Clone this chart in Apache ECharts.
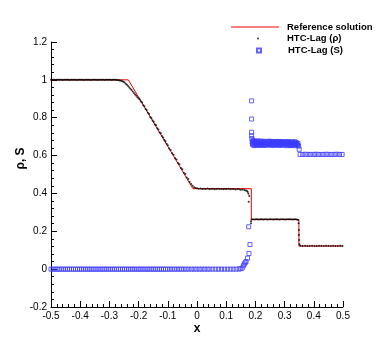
<!DOCTYPE html>
<html>
<head>
<meta charset="utf-8">
<script src="https://cdn.jsdelivr.net/npm/echarts@6/dist/echarts.min.js"></script>
<style>html,body{margin:0;padding:0;background:#fff}#c{width:390px;height:347px}</style>
</head>
<body>
<div id="c"></div>
<script>
const xTicks = [-0.5, 0.5, 0.1];
const yTicks = [-0.2, 1.2, 0.2];
const seriesNames = ['Reference solution', 'HTC-Lag (\u03c1)', 'HTC-Lag (S)'];

const refPts = [[-0.5,1],[-0.2353,1],[-0.014,0.425],[0.186,0.425],[0.186,0.262],[0.349,0.262],[0.349,0.122],[0.5,0.122]];

const rhoPts = [
[-0.500,1.000],[-0.496,1.000],[-0.492,1.001],[-0.488,1.000],[-0.484,0.999],[-0.480,1.000],[-0.476,1.000],[-0.472,1.001],[-0.468,1.000],[-0.464,1.000],
[-0.460,0.999],[-0.456,1.000],[-0.452,1.000],[-0.448,1.001],[-0.444,1.000],[-0.440,1.000],[-0.436,0.999],[-0.432,1.000],[-0.428,1.000],[-0.424,1.001],
[-0.420,1.000],[-0.416,1.000],[-0.412,0.999],[-0.408,1.000],[-0.404,1.000],[-0.400,1.001],[-0.396,1.000],[-0.392,1.000],[-0.388,0.999],[-0.384,1.000],
[-0.380,1.000],[-0.376,1.001],[-0.372,1.000],[-0.368,1.000],[-0.364,0.999],[-0.360,1.000],[-0.356,1.000],[-0.352,1.001],[-0.348,1.000],[-0.344,1.000],
[-0.340,0.999],[-0.336,1.000],[-0.332,1.000],[-0.328,1.001],[-0.324,1.000],[-0.320,1.000],[-0.316,0.999],[-0.312,1.000],[-0.308,1.000],[-0.304,1.001],
[-0.300,1.000],[-0.296,1.000],[-0.292,0.999],[-0.288,1.000],[-0.284,1.000],[-0.280,1.000],[-0.276,0.999],[-0.272,0.999],[-0.268,0.998],[-0.264,0.997],
[-0.260,0.995],[-0.256,0.993],[-0.252,0.990],[-0.248,0.986],[-0.244,0.980],[-0.240,0.974],[-0.236,0.967],[-0.232,0.960],[-0.228,0.953],[-0.224,0.946],
[-0.220,0.938],[-0.216,0.930],[-0.212,0.922],[-0.208,0.916],[-0.204,0.908],[-0.200,0.902],[-0.196,0.896],[-0.192,0.886],[-0.188,0.880],[-0.184,0.866],
[-0.180,0.861],[-0.176,0.846],[-0.172,0.840],[-0.168,0.826],[-0.164,0.820],[-0.160,0.804],[-0.156,0.799],[-0.152,0.785],[-0.148,0.779],[-0.144,0.764],
[-0.140,0.760],[-0.136,0.744],[-0.132,0.738],[-0.128,0.722],[-0.124,0.718],[-0.120,0.703],[-0.116,0.696],[-0.112,0.682],[-0.108,0.676],[-0.104,0.662],
[-0.100,0.655],[-0.095,0.638],[-0.090,0.630],[-0.085,0.612],[-0.080,0.605],[-0.075,0.586],[-0.070,0.579],[-0.065,0.561],[-0.060,0.554],[-0.055,0.535],
[-0.050,0.528],[-0.045,0.509],[-0.040,0.502],[-0.035,0.484],[-0.030,0.476],[-0.025,0.461],[-0.020,0.450],[-0.015,0.440],[-0.010,0.433],[-0.005,0.429],
[0.000,0.427],[0.006,0.425],[0.012,0.426],[0.018,0.423],[0.024,0.425],[0.030,0.424],[0.036,0.426],[0.042,0.423],[0.048,0.424],[0.054,0.425],
[0.060,0.422],[0.066,0.424],[0.072,0.425],[0.078,0.423],[0.084,0.424],[0.090,0.422],[0.096,0.424],[0.102,0.423],[0.108,0.425],[0.114,0.422],
[0.120,0.423],[0.126,0.424],[0.132,0.421],[0.138,0.423],[0.144,0.422],[0.150,0.420],[0.156,0.421],[0.162,0.418],[0.167,0.416],[0.171,0.413],
[0.174,0.408],[0.176,0.398],[0.179,0.386],[0.177,0.356],
[0.185,0.253],[0.185,0.243],[0.187,0.262],[0.192,0.263],[0.197,0.262],[0.202,0.264],[0.207,0.263],[0.212,0.262],[0.217,0.264],[0.222,0.263],
[0.227,0.262],[0.232,0.263],[0.237,0.264],[0.242,0.262],[0.247,0.263],[0.252,0.264],[0.257,0.263],[0.262,0.262],[0.267,0.263],[0.272,0.264],
[0.277,0.263],[0.282,0.262],[0.287,0.263],[0.292,0.264],[0.297,0.263],[0.302,0.262],[0.307,0.263],[0.312,0.264],[0.317,0.263],[0.322,0.263],
[0.327,0.262],[0.332,0.263],[0.337,0.263],[0.342,0.262],[0.346,0.259],
[0.348,0.242],[0.349,0.207],[0.349,0.180],[0.350,0.154],[0.351,0.131],
[0.354,0.123],[0.362,0.122],[0.370,0.123],[0.378,0.122],[0.386,0.122],[0.394,0.123],[0.402,0.122],[0.410,0.122],[0.418,0.123],[0.426,0.122],
[0.434,0.122],[0.442,0.123],[0.450,0.122],[0.458,0.122],[0.466,0.123],[0.474,0.122],[0.482,0.122],[0.490,0.123],[0.498,0.122]
];

const sPts = [
[-0.500,0],[-0.493,0],[-0.486,0],[-0.479,0],[-0.472,0],[-0.465,0],[-0.458,0],[-0.451,0],[-0.444,0],[-0.437,0],
[-0.430,0],[-0.423,0],[-0.416,0],[-0.409,0],[-0.402,0],[-0.395,0],[-0.388,0],[-0.381,0],[-0.374,0],[-0.367,0],
[-0.360,0],[-0.353,0],[-0.346,0],[-0.339,0],[-0.332,0],[-0.325,0],[-0.318,0],[-0.311,0],[-0.304,0],[-0.297,0],
[-0.290,0],[-0.283,0],[-0.276,0],[-0.269,0],[-0.262,0],[-0.255,0],[-0.248,0],[-0.241,0],[-0.234,0],[-0.227,0],
[-0.220,0],[-0.213,0],[-0.206,0],[-0.199,0],[-0.192,0],[-0.185,0],[-0.178,0],[-0.171,0],[-0.164,0],[-0.157,0],
[-0.150,0],[-0.143,0],[-0.136,0],[-0.129,0],[-0.122,0],[-0.115,0],[-0.108,0],[-0.101,0],
[-0.093,0],[-0.085,0],[-0.077,0],[-0.069,0],[-0.061,0],[-0.053,0],[-0.045,0],[-0.037,0],[-0.028,0],[-0.019,0],
[-0.010,0],[-0.001,0],[0.008,0],[0.017,0],[0.026,0],[0.035,0],[0.044,0],[0.054,0],[0.064,0],[0.074,0],
[0.084,0],[0.094,0],[0.104,0],[0.114,0],[0.124,0],[0.134,0],[0.144,0.001],
[0.150,0.002],[0.155,0.006],[0.159,0.018],[0.162,0.027],[0.165,0.034],[0.168,0.040],[0.173,0.058],[0.178,0.083],[0.1815,0.130],[0.177,0.224],
[0.187,0.889],[0.187,0.793],[0.187,0.723],[0.187,0.705],[0.188,0.690],
[0.189,0.672],[0.190,0.660],[0.192,0.680],[0.193,0.655],[0.195,0.668],[0.196,0.676],[0.198,0.653],[0.200,0.664],[0.202,0.674],[0.204,0.658],
[0.206,0.669],[0.208,0.678],[0.210,0.656],[0.212,0.665],[0.214,0.673],[0.216,0.654],[0.218,0.667],[0.220,0.677],[0.223,0.659],[0.226,0.670],
[0.229,0.653],[0.232,0.675],[0.235,0.662],[0.238,0.671],[0.241,0.655],[0.244,0.667],[0.247,0.676],[0.250,0.658],[0.253,0.668],[0.256,0.653],
[0.259,0.673],[0.262,0.661],[0.265,0.670],[0.268,0.655],[0.271,0.666],[0.274,0.675],[0.277,0.657],[0.280,0.668],[0.283,0.653],[0.286,0.671],
[0.289,0.660],[0.292,0.669],[0.295,0.654],[0.298,0.665],[0.301,0.673],[0.304,0.656],[0.307,0.667],[0.310,0.652],[0.313,0.670],[0.316,0.659],
[0.319,0.668],[0.322,0.653],[0.325,0.664],[0.328,0.672],[0.331,0.655],[0.334,0.666],[0.337,0.652],[0.340,0.669],[0.343,0.658],[0.346,0.664],
[0.1905,0.665],[0.1935,0.674],[0.1975,0.661],[0.2015,0.670],[0.2055,0.655],[0.2095,0.672],[0.2135,0.660],[0.2175,0.671],[0.2215,0.657],[0.2245,0.666],
[0.2275,0.673],[0.2305,0.660],[0.2335,0.668],[0.2365,0.656],[0.2395,0.674],[0.2425,0.662],[0.2455,0.659],[0.2485,0.671],[0.2515,0.663],[0.2545,0.675],
[0.2575,0.660],[0.2605,0.668],[0.2635,0.656],[0.2665,0.674],[0.2695,0.662],[0.2725,0.658],[0.2755,0.670],[0.2785,0.663],[0.2815,0.674],[0.2845,0.659],
[0.2875,0.666],[0.2905,0.674],[0.2935,0.661],[0.2965,0.670],[0.2995,0.658],[0.3025,0.664],[0.3055,0.672],[0.3085,0.660],[0.3115,0.666],[0.3145,0.674],
[0.3175,0.655],[0.3205,0.663],[0.3235,0.671],[0.3265,0.658],[0.3295,0.667],[0.3325,0.661],[0.3355,0.673],[0.3385,0.660],[0.3415,0.664],[0.3445,0.655],
[0.348,0.650],[0.350,0.633],
[0.353,0.606],[0.362,0.606],[0.371,0.607],[0.380,0.606],[0.389,0.606],[0.398,0.606],[0.407,0.607],[0.416,0.606],[0.425,0.606],[0.434,0.606],
[0.443,0.607],[0.452,0.606],[0.461,0.606],[0.470,0.606],[0.479,0.607],[0.488,0.606],[0.497,0.606]
];

const FONT = '"Liberation Sans", Arial, Helvetica, sans-serif';
const RED = '#f00000';
const BLUE = '#3c3cff';

const chart = echarts.init(document.getElementById('c'), null, {renderer: 'canvas'});
const axisCommon = {
  type: 'value',
  axisLine: {show: true, onZero: false, lineStyle: {color: '#000', width: 1}},
  axisTick: {show: true, inside: true, length: 6, lineStyle: {color: '#000', width: 1}},
  minorTick: {show: true, splitNumber: 5, length: 3, lineStyle: {color: '#000', width: 1}},
  splitLine: {show: false},
  axisLabel: {color: '#000', fontSize: 10, fontFamily: FONT, margin: 4},
  nameMoveOverlap: false,
  nameTextStyle: {color: '#000', fontSize: 12, fontWeight: 'bold', fontFamily: FONT}
};
const legendText = {color: '#000', fontSize: 9.5, fontWeight: 'bold', fontFamily: FONT};
chart.setOption({
  animation: false,
  backgroundColor: '#fff',
  grid: {left: 51, right: 47, top: 42, bottom: 40},
  xAxis: Object.assign({}, axisCommon, {
    min: xTicks[0], max: xTicks[1], interval: xTicks[2],
    name: 'x', nameLocation: 'middle', nameGap: 16
  }),
  yAxis: Object.assign({}, axisCommon, {
    min: yTicks[0], max: yTicks[1], interval: yTicks[2],
    name: '\u03c1, S', nameLocation: 'middle', nameGap: 24,
    nameTextStyle: Object.assign({}, axisCommon.nameTextStyle, {padding: [0, 0, 0, 32]})
  }),
  legend: [
    {data: [{name: seriesNames[0], icon: 'rect'}], left: 231, top: 22, padding: 0, itemWidth: 48, itemHeight: 1,
     itemStyle: {color: RED}, textStyle: Object.assign({padding: [0, 0, 0, 3]}, legendText)},
    {data: [{name: seriesNames[1], icon: 'circle'}], left: 257, top: 33.5, padding: 0, itemWidth: 2, itemHeight: 2,
     textStyle: Object.assign({padding: [0, 0, 0, 23]}, legendText)},
    {data: [seriesNames[2]], left: 256, top: 45.5, padding: 0, itemWidth: 4, itemHeight: 4,
     textStyle: Object.assign({padding: [0, 0, 0, 22]}, legendText)}
  ],
  series: [
    {name: seriesNames[0], type: 'line', data: refPts, symbol: 'none', z: 2,
     lineStyle: {color: RED, width: 1}, itemStyle: {color: RED}},
    {name: seriesNames[1], type: 'scatter', data: rhoPts, symbol: 'circle', symbolSize: 2, z: 3,
     itemStyle: {color: '#000'}},
    {name: seriesNames[2], type: 'scatter', data: sPts, symbol: 'rect', symbolSize: 4, z: 4,
     itemStyle: {color: 'rgba(0,0,0,0)', borderColor: BLUE, borderWidth: 1}}
  ]
});
</script>
</body>
</html>
